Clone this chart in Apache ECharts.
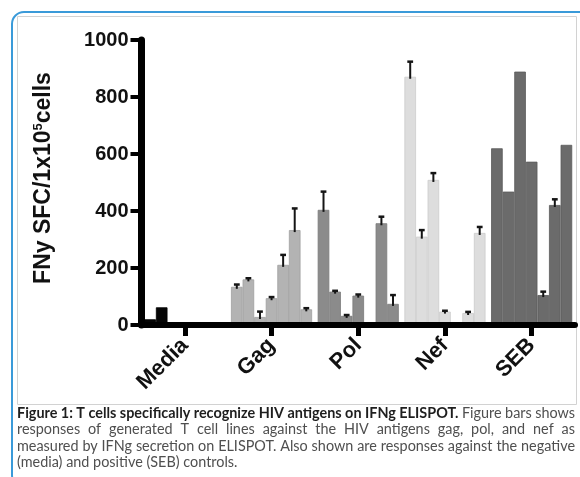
<!DOCTYPE html>
<html><head><meta charset="utf-8">
<script src="https://cdn.jsdelivr.net/npm/echarts@6/dist/echarts.min.js"></script>
<style>html,body{margin:0;padding:0;background:#fff}#c{width:580px;height:477px}</style>
</head><body><div id="c"></div>
<script>
// ---- data ----
const categories = ['Media', 'Gag', 'Pol', 'Nef', 'SEB'];
const yMin = 0, yMax = 1000, yStep = 200;
// one array per T cell line, values across [Media, Gag, Pol, Nef, SEB]
const cellLine1 = [20, 134, 404, 871, 620];
const cellLine2 = [62, 160, 117, 310, 468];
const cellLine3 = [0, 28, 32, 509, 889];
const cellLine4 = [0, 94, 103, 47, 573];
const cellLine5 = [0, 211, 0, 0, 105];
const cellLine6 = [0, 333, 357, 42, 421];
const cellLine7 = [0, 55, 74, 323, 632];
// upper error (SEM) per cell line
const errLine1 = [0, 8, 64, 53, 0];
const errLine2 = [0, 4, 3, 23, 0];
const errLine3 = [0, 19, 3, 24, 0];
const errLine4 = [0, 4, 4, 3, 0];
const errLine5 = [0, 35, 0, 0, 12];
const errLine6 = [0, 76, 23, 4, 20];
const errLine7 = [0, 4, 31, 21, 0];
const categoryColors = ['#050505', '#b3b3b3', '#8b8b8b', '#dddddd', '#6b6b6b'];
const categoryBorders = ['#000000', '#a0a0a0', '#7a7a7a', '#cbcbcb', '#5b5b5b'];
const yTitleMain1 = 'FNy SFC/1x10';
const yTitleSup = '5';
const yTitleMain2 = 'cells';
const captionBold = 'Figure 1: T cells specifically recognize HIV antigens on IFNg ELISPOT.';
const captionRest1 = 'Figure bars shows';
const captionLine2 = 'responses of generated T cell lines against the HIV antigens gag, pol, and nef as';
const captionLine3 = 'measured by IFNg secretion on ELISPOT. Also shown are responses against the negative';
const captionLine4 = '(media) and positive (SEB) controls.';

const seriesValues = [cellLine1, cellLine2, cellLine3, cellLine4, cellLine5, cellLine6, cellLine7];
const seriesErrors = [errLine1, errLine2, errLine3, errLine4, errLine5, errLine6, errLine7];
const N = seriesValues.length;
const GAP = 0.065;
const AX = '"Liberation Sans", Arial, sans-serif';
const CAP = 'Lato, "Open Sans", sans-serif';

const chart = echarts.init(document.getElementById('c'));

const barSeries = seriesValues.map((vals, s) => ({
  type: 'bar',
  name: 'line' + (s + 1),
  data: vals.map((v, i) => ({ value: v, itemStyle: { color: categoryColors[i], borderColor: categoryBorders[i], borderWidth: v > 0 ? 0.8 : 0 } })),
  barGap: '0%',
  barCategoryGap: (GAP * 100) + '%',
  silent: true,
  z: 2
}));

const errData = [];
seriesValues.forEach((vals, s) => vals.forEach((v, i) => {
  const e = seriesErrors[s][i];
  if (e > 0) errData.push([i, v + e, s, v, e]);
}));

const errSeries = {
  type: 'custom',
  data: errData,
  encode: { x: 0, y: 1 },
  z: 5,
  silent: true,
  renderItem(params, api) {
    const ci = api.value(0), s = api.value(2), v = api.value(3), e = api.value(4);
    const cw = api.size([1, 0])[0];
    const gw = cw * (1 - GAP);
    const bw = gw / N;
    const cx = api.coord([ci, 0])[0] - gw / 2 + bw * (s + 0.5);
    const y0 = api.coord([ci, v])[1];
    const y1 = api.coord([ci, v + e])[1];
    const capW = bw * 0.5;
    return { type: 'group', children: [
      { type: 'line', shape: { x1: cx, y1: y0 + 2, x2: cx, y2: y1 }, style: { stroke: '#151515', lineWidth: 2 } },
      { type: 'line', shape: { x1: cx - capW / 2, y1: y1, x2: cx + capW / 2, y2: y1 }, style: { stroke: '#151515', lineWidth: 2.5 } }
    ] };
  }
};

// ---- caption layout (justified) ----
const mctx = document.createElement('canvas').getContext('2d');
function tw(t, size, bold) { mctx.font = (bold ? 'bold ' : '') + size + 'px ' + CAP; return mctx.measureText(t).width; }
const capLeft = 17, capRight = 575, capW = capRight - capLeft;
let capSize = 13 * 228 / tw(captionLine4, 13, false);
const natural3 = tw(captionLine3, capSize, false);
if (natural3 > capW - 3) capSize *= (capW - 3) / natural3;
const graphics = [];
function layLine(words, y, justify) {
  const widths = words.map(w => tw(w.t, capSize, w.b));
  const total = widths.reduce((a, b) => a + b, 0);
  const gap = justify ? (capW - total) / (words.length - 1) : tw(' ', capSize, false);
  let x = capLeft;
  words.forEach((w, k) => {
    graphics.push({ type: 'text', x: x, y: y, z: 20, silent: true,
      style: { text: w.t, fontSize: capSize, fontWeight: w.b ? 'bold' : 'normal', fontFamily: CAP,
        fill: w.b ? '#1e1e1e' : '#4f4f4f', verticalAlign: 'middle', align: 'left' } });
    x += widths[k] + gap;
  });
}
const toWords = (s, b) => s.split(' ').map(t => ({ t, b }));
layLine(toWords(captionBold, true).concat(toWords(captionRest1, false)), 413, true);
layLine(toWords(captionLine2, false), 429.5, true);
layLine(toWords(captionLine3, false), 446, true);
layLine(toWords(captionLine4, false), 462.5, false);

// frame
graphics.unshift(
  { type: 'rect', z: 0, silent: true, shape: { x: 12, y: 12, width: 620, height: 475, r: 12 }, style: { fill: 'none', stroke: '#3a9ad9', lineWidth: 2 } },
  { type: 'rect', z: 0, silent: true, shape: { x: 17.5, y: 16.5, width: 559, height: 388 }, style: { fill: 'none', stroke: '#d2d2d2', lineWidth: 1 } }
);
// y-axis title
graphics.push({
  type: 'text', z: 20, silent: true, x: 44, y: 178, rotation: Math.PI / 2,
  style: {
    text: '{a|' + yTitleMain1 + '}{s|' + yTitleSup + '}{a|' + yTitleMain2 + '}',
    align: 'center', verticalAlign: 'middle',
    rich: {
      a: { fontFamily: AX, fontWeight: 'bold', fontSize: 23, fill: '#111', lineHeight: 24 },
      s: { fontFamily: AX, fontWeight: 'bold', fontSize: 13, fill: '#111', lineHeight: 14, verticalAlign: 'top' }
    }
  }
});

const option = {
  animation: false,
  backgroundColor: '#ffffff',
  grid: { left: 141.5, right: 5, top: 40, bottom: 152, containLabel: false },
  xAxis: {
    type: 'category',
    data: categories,
    z: 10,
    axisLine: { show: true, lineStyle: { color: '#000', width: 6 } },
    axisTick: { show: true, interval: 0, inside: false, alignWithLabel: true, length: 11, lineStyle: { color: '#000', width: 5 } },
    axisLabel: { rotate: 45, margin: 17, fontFamily: AX, fontWeight: 'bold', fontSize: 22, color: '#111' },
    splitLine: { show: false }
  },
  yAxis: {
    type: 'value',
    min: yMin, max: yMax, interval: yStep,
    z: 10,
    axisLine: { show: true, onZero: false, lineStyle: { color: '#000', width: 7 } },
    axisTick: { show: true, inside: false, length: 11, lineStyle: { color: '#000', width: 4 } },
    axisLabel: { margin: 13, fontFamily: AX, fontWeight: 'bold', fontSize: 20, color: '#111', formatter: v => String(v) },
    splitLine: { show: false }
  },
  graphic: { elements: graphics },
  series: barSeries.concat([errSeries])
};
chart.setOption(option);
</script></body></html>
